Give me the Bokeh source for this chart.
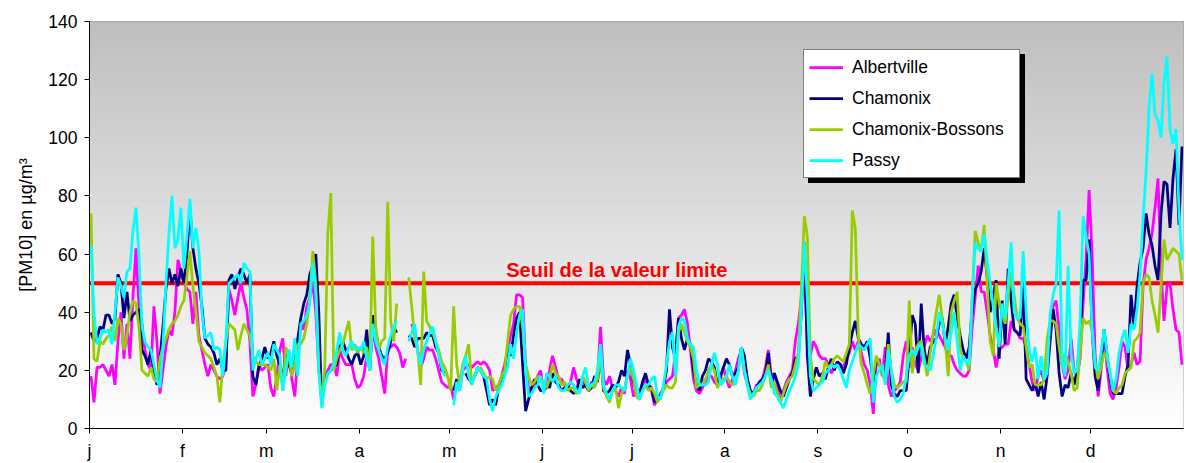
import numpy as np
from bokeh.plotting import figure
from bokeh.models import Range1d, FixedTicker, Legend, LegendItem, Label
from bokeh.embed import file_html
from bokeh.resources import INLINE

N = None
month_labels = ["j", "f", "m", "a", "m", "j", "j", "a", "s", "o", "n", "d"]
month_days = [31, 28, 31, 30, 31, 30, 31, 31, 30, 31, 30, 31]
y_ticks = [0, 20, 40, 60, 80, 100, 120, 140]
limit_value = 50
limit_label = "Seuil de la valeur limite"

albertville = (
    [18,9,21,21,22,20,18,22,15,30,40,24,36,24,45,62,42,36,27,22,20,42,30,12,20,28,34,32,40,58,54]
    + [50,48,47,36,47,32,27,22,18,22,20,18,17,18,22,48,44,39,45,50,45,41,30,11,15,22,20,21]
    + [22,14,11,18,27,31,18,27,17,11,25,36,34,42,45,50,40,20,12,18,20,22,22,18,27,24,22,22,22,17,14]
    + [15,18,25,22,34,28,24,18,12,27,28,29,28,26,21,24,N,36,33,27,21,24,28,27,27,24,20,16,15,14]
    + [15,10,15,13,20,21,22,21,22,23,22,23,22,20,13,14,15,18,22,27,32,36,46,46,45,22,14,13,15,18,20]
    + [13,14,20,25,21,17,17,15,14,16,21,17,14,16,15,13,16,15,18,35,17,15,18,14,13,11,14,12,20,17]
    + [11,14,12,15,17,14,13,8,10,12,14,16,17,18,26,38,39,41,36,27,17,13,12,14,16,18,18,16,15,17,21]
    + [17,14,17,20,24,27,19,15,13,12,15,15,17,21,27,18,19,14,9,13,16,18,20,30,36,45,55,30,25,30,28]
    + [25,24,24,22,19,21,23,22,21,24,26,30,27,30,26,22,20,15,5,22,24,18,28,15,11,13,14,16,25,30]
    + [21,28,22,20,24,28,32,30,32,34,32,30,28,25,25,22,20,19,18,18,20,35,45,56,47,47,40,32,27,21,27]
    + [28,29,29,37,34,33,31,31,28,22,16,13,18,20,16,22,34,42,44,34,22,17,20,31,20,18,24,43,58,82]
    + [60,26,11,20,33,21,12,10,14,21,30,28,20,22,26,22,23,49,58,62,67,76,86,54,37,49,50,41,34,33,22]
)

chamonix = (
    [33,30,31,35,34,39,39,36,38,53,50,38,47,37,39,40,41,27,25,22,27,20,15,24,35,48,55,50,53,49,55]
    + [50,60,76,62,55,50,42,31,29,28,26,22,24,20,20,51,53,48,52,55,53,50,53,18,15,21,24,28]
    + [24,26,30,25,22,17,26,22,19,27,31,38,43,46,53,56,60,40,8,17,19,20,21,22,28,30,27,24,22,25,26]
    + [22,25,34,20,39,33,28,25,24,26,30,35,33,N,N,N,32,31,28,31,31,31,33,32,32,28,26,20,19,N]
    + [N,13,17,13,N,19,17,16,18,21,20,18,13,8,10,8,14,17,20,27,25,32,38,40,22,6,10,14,17,15,13]
    + [13,15,14,19,16,15,13,14,15,13,12,13,17,14,15,13,14,18,16,26,13,12,13,15,14,16,20,18,27,22]
    + [16,13,12,16,19,15,14,9,11,11,14,20,41,28,24,38,31,27,31,29,20,15,13,18,20,24,23,21,15,18,21]
    + [24,22,18,19,21,28,25,17,13,12,14,16,17,19,26,15,19,16,13,11,14,17,19,24,25,40,64,25,11,17,21]
    + [18,19,17,21,24,20,23,22,19,22,28,33,37,31,29,28,30,24,16,24,22,20,19,33,15,12,11,13,13,13]
    + [25,39,36,19,43,27,22,28,30,31,36,38,29,35,43,46,38,32,27,24,28,41,48,50,54,62,52,40,46,51,24]
    + [44,29,55,44,34,33,32,50,17,15,13,16,11,16,10,18,30,41,34,19,11,15,14,19,15,20,31,51,51,65]
    + [34,18,13,23,34,25,17,12,12,12,12,18,22,46,35,49,57,62,74,67,63,56,51,74,85,84,69,86,96,70,97]
)

bossons = (
    [74,24,23,30,29,31,32,35,30,38,36,27,32,40,44,43,35,20,19,18,21,17,16,24,28,31,34,36,37,39,42]
    + [44,52,61,49,40,30,28,26,25,24,21,18,9,22,30,36,35,34,27,32,36,34,32,25,23,22,22,22]
    + [21,20,24,13,22,13,28,25,18,22,29,29,31,36,45,61,50,20,9,21,67,81,20,24,27,29,33,37,27,29,26]
    + [28,26,28,20,66,35,27,30,31,78,37,30,43,N,N,N,52,42,31,27,15,54,37,35,33,30,27,23,21,18]
    + [13,42,22,15,22,25,29,16,18,20,21,19,17,18,17,13,15,18,20,30,39,41,42,42,35,22,18,15,16,18,17]
    + [15,14,17,22,19,18,15,16,13,14,14,12,13,18,16,13,15,14,17,25,14,11,9,13,14,7,12,14,18,21]
    + [17,11,10,13,15,13,14,12,9,11,13,15,14,14,16,33,36,33,30,28,24,14,15,15,17,20,22,20,14,16,17]
    + [18,16,15,16,20,28,20,15,12,11,13,13,15,18,22,14,16,12,9,12,15,17,18,22,26,48,73,66,25,17,16]
    + [15,18,23,21,22,24,25,24,23,26,29,75,69,32,22,19,15,12,18,25,22,19,16,29,20,15,14,15,16,16]
    + [44,19,27,29,30,24,18,26,33,40,46,38,30,18,40,44,47,27,24,23,20,45,68,64,61,70,50,30,25,50,43]
    + [40,36,45,54,46,38,36,35,28,21,22,15,15,15,17,31,37,37,36,28,21,26,23,19,13,14,26,38,36,37]
    + [34,23,17,21,26,24,19,13,12,14,15,19,20,21,30,31,33,50,53,52,44,39,33,49,65,58,60,62,61,60,51]
)

passy = (
    [63,40,29,31,34,33,34,29,40,52,49,45,54,55,68,76,60,35,30,28,27,22,17,14,28,50,67,80,62,65,76]
    + [55,66,79,62,69,61,40,31,32,33,27,28,27,18,30,50,51,52,53,50,57,55,54,20,24,27,22,24]
    + [26,22,29,27,25,13,20,27,21,31,18,36,37,39,43,57,47,20,7,15,19,20,22,27,33,27,25,28,30,27,28]
    + [27,30,24,20,36,30,27,24,22,28,32,35,37,N,N,N,30,33,36,26,22,27,30,33,35,30,25,21,18,N]
    + [N,8,16,13,20,25,18,15,18,21,20,18,17,10,6,11,13,15,18,21,29,24,33,39,41,20,11,12,14,15,18]
    + [12,19,18,16,18,14,13,13,15,16,15,13,12,18,21,14,15,16,20,29,15,12,10,13,15,15,14,13,18,24]
    + [20,15,10,13,15,15,17,18,11,10,15,22,30,33,18,35,38,37,31,29,28,20,15,15,15,16,22,26,22,15,16]
    + [18,22,18,15,20,28,20,15,10,12,14,15,16,18,20,17,12,11,9,7,10,13,15,18,22,40,64,44,18,13,14]
    + [15,16,19,20,22,21,22,20,17,14,20,23,26,29,28,27,29,31,9,18,20,22,15,27,20,11,9,10,12,18]
    + [25,27,25,28,29,22,21,20,25,31,40,36,31,27,33,40,30,20,25,23,22,45,64,62,61,67,58,50,42,35,28]
    + [43,38,50,64,40,38,38,61,40,27,23,28,17,25,17,19,39,46,50,75,23,18,56,26,19,20,37,73,66,60]
    + [35,21,20,26,34,26,19,13,17,26,31,34,26,36,34,41,53,72,88,110,122,108,106,100,119,128,103,98,103,75,58]
)

series = [
    ("Albertville", albertville, "#ff00ff"),
    ("Chamonix", chamonix, "#000080"),
    ("Chamonix-Bossons", bossons, "#99cc00"),
    ("Passy", passy, "#00ffff"),
]

n_days = sum(month_days)
month_starts = [int(v) for v in np.concatenate([[0], np.cumsum(month_days)[:-1]])]

FONT = "Liberation Sans"
FRAME_H = 407
Y_MAX = 140
px_per_unit = FRAME_H / Y_MAX

p = figure(width=1186, height=463, x_range=Range1d(0, n_days), y_range=Range1d(0, Y_MAX),
           output_backend="svg", toolbar_location=None,
           min_border_left=89, min_border_right=3, min_border_top=21, min_border_bottom=35)
p.background_fill_color = "white"
p.border_fill_color = "white"
p.outline_line_color = "#808080"
p.outline_line_width = 1
p.grid.visible = False

# vertical gray -> white gradient background of the plot area
nb = 200
edges = np.linspace(0, Y_MAX, nb + 1)
mids = (edges[:-1] + edges[1:]) / 2
cols = []
for m in mids:
    t = m / Y_MAX
    c = int(round(255 - t * (255 - 190)))
    cols.append("#%02x%02x%02x" % (c, c, c))
p.quad(left=0, right=n_days, bottom=edges[:-1], top=edges[1:], fill_color=cols, line_color=cols, line_width=1)

# limit line and its label (text sits just above the line)
p.line([0, n_days], [limit_value, limit_value], line_color="#ff0000", line_width=4)
p.add_layout(Label(x=n_days * 0.482, y=limit_value + 13.5 / px_per_unit, text=limit_label,
                   text_align="center", text_baseline="middle", text_color="#ff0000",
                   text_font=FONT, text_font_size="20px", text_font_style="bold"))

renderers = []
for name, vals, color in series:
    y = np.array([np.nan if v is None else v for v in vals], dtype=float)
    x = np.arange(len(y)) + 0.5
    r = p.line(x, y, line_color=color, line_width=2.75)
    renderers.append((name, r))

# axes
p.xaxis.ticker = FixedTicker(ticks=month_starts)
p.xaxis.major_label_overrides = {ms: lab for ms, lab in zip(month_starts, month_labels)}
p.xaxis.major_label_standoff = 7
p.yaxis.ticker = FixedTicker(ticks=y_ticks)
p.yaxis.major_label_standoff = 7
for ax in (p.xaxis, p.yaxis):
    ax.axis_line_color = "black"
    ax.axis_line_width = 1
    ax.major_tick_line_color = "black"
    ax.major_tick_in = 0
    ax.major_tick_out = 5
    ax.minor_tick_line_color = None
    ax.major_label_text_color = "black"
    ax.major_label_text_font = FONT
    ax.major_label_text_font_size = "17.5px"
p.yaxis.axis_label = "[PM10] en µg/m³"
p.yaxis.axis_label_text_font = FONT
p.yaxis.axis_label_text_font_size = "18px"
p.yaxis.axis_label_text_font_style = "normal"
p.yaxis.axis_label_text_color = "black"
p.yaxis.axis_label_standoff = 9

def style_legend(lg):
    lg.label_text_font = FONT
    lg.label_text_font_size = "17.5px"
    lg.glyph_width = 34
    lg.glyph_height = 24
    lg.label_height = 24
    lg.label_width = 162
    lg.label_standoff = 9
    lg.spacing = 7
    lg.padding = 5
    lg.margin = 0
    lg.border_line_color = "black"
    lg.border_line_width = 1
    lg.background_fill_alpha = 1

# shadow box behind the legend (same size, blank entries)
dummies = [LegendItem(label=" ", renderers=[p.line([], [], line_color="black")]) for _ in renderers]
shadow = Legend(items=dummies, location=(719, 245))
style_legend(shadow)
shadow.background_fill_color = "black"
shadow.label_text_color = "black"
p.add_layout(shadow)

legend = Legend(items=[LegendItem(label=name, renderers=[r]) for name, r in renderers], location=(714, 250))
style_legend(legend)
legend.background_fill_color = "white"
legend.label_text_color = "black"
p.add_layout(legend)

open("out.html", "w").write(file_html(p, INLINE))
